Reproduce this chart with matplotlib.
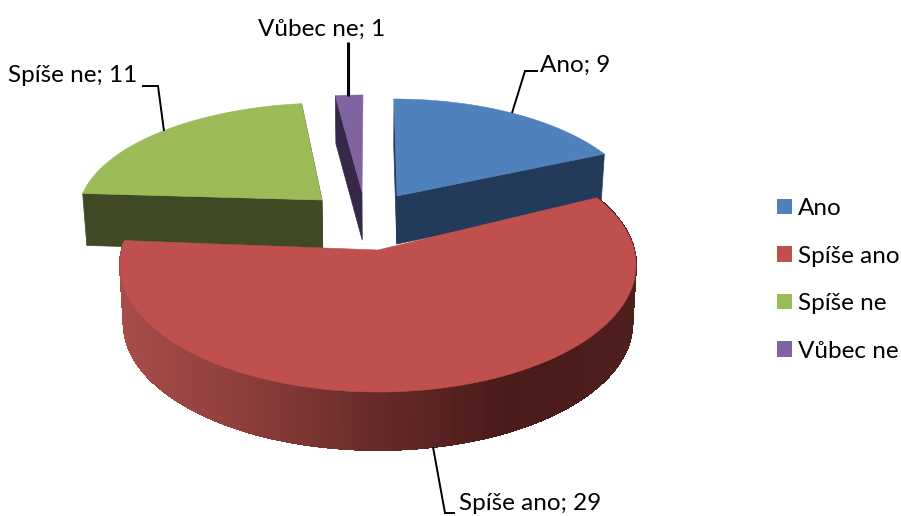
import numpy as np
import matplotlib
matplotlib.use('Agg')
import matplotlib.pyplot as plt
from matplotlib.collections import PolyCollection
from matplotlib.colors import LinearSegmentedColormap
from matplotlib.patches import Patch, Polygon

categories = ['Ano', 'Spíše ano', 'Spíše ne', 'Vůbec ne']
values = [9, 29, 11, 1]
top_colors = ['#4F81BD', '#C0504D', '#9BBB59', '#8064A2']
side_colors = ['#243A5A', '#4A1B19', '#3F4A24', '#362849']

# pixel geometry of each exploded slice: ellipse centre, radii, apex, depth
centers = [(394, 216), (378, 265), (329, 215), (363, 210)]
radii = [(248, 117), (258, 127), (251, 112), (254, 115)]
apexes = [(397, 196), (378, 250), (322, 200), (362, 192)]
depths = [48, 58, 52, 48]

plt.rcParams['font.family'] = ['Lato', 'DejaVu Sans']
FONT = 17.5
PIE_X = 378

fig = plt.figure(figsize=(9.01, 5.16), dpi=100)
ax = fig.add_axes([0, 0, 1, 1])
ax.set_xlim(0, 901)
ax.set_ylim(516, 0)
ax.axis('off')


def arc(i, t0, t1, n=400):
    # t is clockwise from the top, pulled a bit to the back for perspective
    t = np.radians(np.linspace(t0, t1, n))
    u = t - np.radians(7.5) * np.sin(t)
    x = centers[i][0] + radii[i][0] * np.sin(u)
    y = centers[i][1] - radii[i][1] * np.cos(u)
    return np.column_stack([x, y])


def extrude(pts, depth):
    out = np.array(pts, dtype=float)
    out[:, 0] = PIE_X + (out[:, 0] - PIE_X) * 0.986
    out[:, 1] += depth
    return out


def cut_face(i, corner, z):
    apex = np.array([apexes[i]], dtype=float)
    pts = np.vstack([apex, corner])
    poly = np.vstack([pts, extrude(pts, depths[i])[::-1]])
    ax.add_patch(Polygon(poly, closed=True, fc=side_colors[i], ec=side_colors[i], lw=0.5, zorder=z))


shares = np.array(values) / sum(values) * 360
ends = np.cumsum(shares)
starts = ends - shares
spans = list(zip(starts, ends))

rim_cmap = LinearSegmentedColormap.from_list(
    'rim', ['#A84C4A', '#8C3D3B', '#662A28', '#4A1B19', '#4F1F1D'], N=1024)

# back slices first, the big red one goes over them
for i in [0, 3, 2, 1]:
    a = arc(i, *spans[i])
    z = 2 + [0, 3, 2, 1].index(i) * 2
    if i == 0:
        cut_face(i, a[-1:], z)
        cut_face(i, a[:1], z)
    elif i == 3:
        cut_face(i, a[:1], z)
    elif i == 2:
        cut_face(i, a[:1], z)
        cut_face(i, a[-1:], z)
    else:
        low = extrude(a, depths[i])
        quads = [np.vstack([a[k], a[k + 1], low[k + 1], low[k]]) for k in range(len(a) - 1)]
        frac = (a[:-1, 0] - a[:, 0].min()) / np.ptp(a[:, 0])
        cols = rim_cmap(frac)
        ax.add_collection(PolyCollection(quads, facecolors=cols, edgecolors=cols, linewidths=0.8,
                                         antialiaseds=False, zorder=z))
    top = np.vstack([[apexes[i]], a])
    ax.add_patch(Polygon(top, closed=True, fc=top_colors[i], ec=top_colors[i], lw=0.4, zorder=z + 1))

# leader lines and data labels
leaders = [
    ([538, 525, 512], [71, 71, 113]),
    ([433, 445, 455], [447, 513, 513]),
    ([142, 158, 164], [86, 86, 131]),
    ([348, 348], [42, 96]),
]
leader_widths = [1.4, 1.4, 1.4, 2.2]
label_pos = [(540, 65), (459, 504), (8, 76), (258, 29)]
for i, cat in enumerate(categories):
    ax.plot(leaders[i][0], leaders[i][1], color='black', lw=leader_widths[i],
            solid_capstyle='butt', solid_joinstyle='miter', zorder=20)
    ax.text(label_pos[i][0], label_pos[i][1], f'{cat}; {values[i]}', fontsize=FONT,
            ha='left', va='center', color='black', zorder=21)

handles = [Patch(fc=c, ec='none', label=cat) for c, cat in zip(top_colors, categories)]
ax.legend(handles=handles, loc='upper left', bbox_to_anchor=(0.862, 0.616), frameon=False,
          fontsize=FONT, handlelength=0.62, handleheight=0.62, handletextpad=0.27,
          labelspacing=1.09, borderpad=0, borderaxespad=0)

fig.savefig('out.png', dpi=100)
